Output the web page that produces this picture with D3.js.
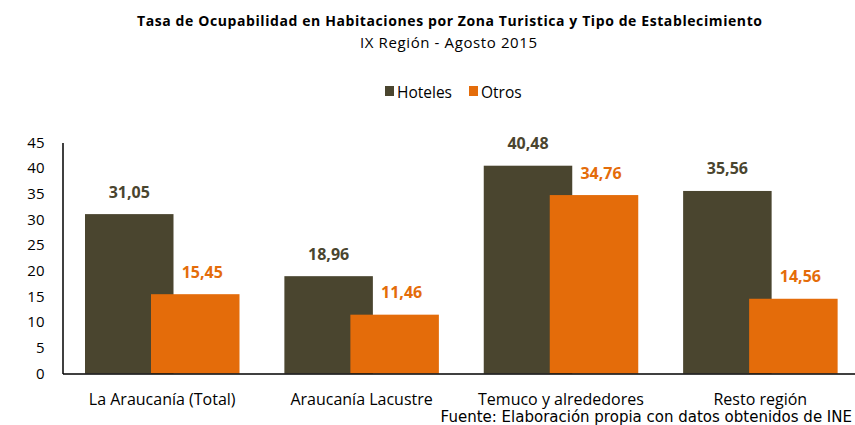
<!DOCTYPE html>
<html>
<head>
<meta charset="utf-8">
<script src="https://cdn.jsdelivr.net/npm/d3@7"></script>
<style>
  html, body { margin: 0; padding: 0; background: #fff; }
  svg { display: block; }
</style>
</head>
<body>
<svg id="chart" width="855" height="425"></svg>
<script>
const categories = ["La Araucanía (Total)", "Araucanía Lacustre", "Temuco y alrededores", "Resto región"];
const seriesNames = ["Hoteles", "Otros"];
const hoteles = [31.05, 18.96, 40.48, 35.56];
const otros = [15.45, 11.46, 34.76, 14.56];
const yTicks = [0, 5, 10, 15, 20, 25, 30, 35, 40, 45];
const colors = ["#4A452F", "#E46C0A"];
const title = "Tasa de Ocupabilidad en Habitaciones por Zona Turistica y Tipo de Establecimiento";
const subtitle = "IX Región - Agosto 2015";
const source = "Fuente: Elaboración propia con datos obtenidos de INE";

const font = "'Open Sans', Lato, sans-serif";
const svg = d3.select("#chart");

const plotBottom = 373.5;

const x = d3.scaleBand().domain(categories).range([62.5, 860]).paddingInner(0).paddingOuter(0);
const y = d3.scaleLinear().domain([0, 45]).range([plotBottom, 142.5]);

// title
svg.append("text").attr("x", 449.5).attr("y", 26).attr("text-anchor", "middle")
  .attr("font-family", font).attr("font-weight", "bold").attr("font-size", 14).attr("fill", "#000")
  .attr("textLength", 625).attr("lengthAdjust", "spacing")
  .text(title);
svg.append("text").attr("x", 448.5).attr("y", 48).attr("text-anchor", "middle")
  .attr("font-family", font).attr("font-size", 15).attr("fill", "#000")
  .attr("textLength", 177).attr("lengthAdjust", "spacing")
  .text(subtitle);

// legend
const legend = svg.append("g");
const legendItems = [{ name: seriesNames[0], color: colors[0], x: 385 }, { name: seriesNames[1], color: colors[1], x: 469 }];
legendItems.forEach(it => {
  legend.append("rect").attr("x", it.x).attr("y", 86).attr("width", 9).attr("height", 10).attr("fill", it.color);
  legend.append("text").attr("x", it.x + 12).attr("y", 97.5)
    .attr("font-family", font).attr("font-size", 15.5).attr("fill", "#000").text(it.name);
});

// bars
const barW = 88.5;
const offsets = [22.5, 88.5]; // start of each series bar within band (overlapping)
const data = categories.map((c, i) => ({ cat: c, vals: [hoteles[i], otros[i]] }));

const g = svg.append("g");
[0, 1].forEach(s => {
  g.selectAll(".bar" + s).data(data).enter().append("rect")
    .attr("x", d => x(d.cat) + offsets[s])
    .attr("y", d => y(d.vals[s]))
    .attr("width", barW)
    .attr("height", d => y(0) - y(d.vals[s]))
    .attr("fill", colors[s]);
});
[0, 1].forEach(s => {
  g.selectAll(".lab" + s).data(data).enter().append("text")
    .attr("x", d => x(d.cat) + offsets[s] + barW / 2 + (s === 1 ? 7 : 0))
    .attr("y", d => y(d.vals[s]) - 16.5)
    .attr("text-anchor", "middle")
    .attr("font-family", font).attr("font-weight", "bold").attr("font-size", 16)
    .attr("fill", colors[s])
    .text(d => d3.format(".2f")(d.vals[s]).replace(".", ","));
});

// y axis
const yAxis = d3.axisLeft(y).tickValues(yTicks).tickSize(0).tickPadding(18);
const ya = svg.append("g").attr("transform", "translate(62.5,0)").call(yAxis);
ya.select(".domain").attr("stroke", "#000").attr("stroke-width", 1.5);
ya.selectAll("text").attr("font-family", font).attr("font-size", 15).attr("fill", "#000");

// x axis
const xAxis = d3.axisBottom(x).tickSize(0).tickPadding(20);
const xa = svg.append("g").attr("transform", `translate(0,${plotBottom})`).call(xAxis);
xa.select(".domain").attr("stroke", "#000").attr("stroke-width", 1.5);
xa.selectAll("text").attr("font-family", font).attr("font-size", 16).attr("fill", "#000");

// source
svg.append("text").attr("x", 852).attr("y", 422).attr("text-anchor", "end")
  .attr("font-family", "'DejaVu Sans', sans-serif").attr("font-size", 15).attr("fill", "#000")
  .text(source);
</script>
</body>
</html>
